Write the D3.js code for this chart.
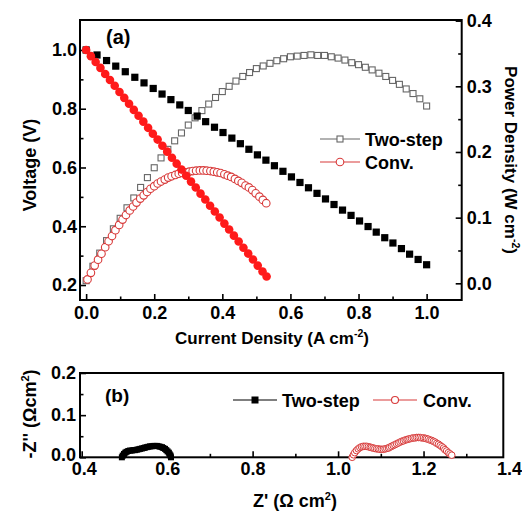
<!DOCTYPE html>
<html><head><meta charset="utf-8">
<script src="https://cdn.jsdelivr.net/npm/d3@7/dist/d3.min.js"></script>
<style>
html,body{margin:0;padding:0;background:#fff;}
svg text{font-family:"Liberation Sans",Arial,sans-serif;font-weight:bold;fill:#000;}
</style></head>
<body><svg id="c" width="522" height="518"></svg>
<script>
// ---------- Data: panel (a) polarization ----------
const twoStepI = [0.000,0.032,0.060,0.087,0.115,0.143,0.170,0.197,0.223,0.249,0.275,0.300,0.326,0.351,0.377,0.402,0.428,0.453,0.478,0.503,0.528,0.553,0.578,0.603,0.628,0.653,0.678,0.703,0.728,0.753,0.778,0.803,0.828,0.852,0.877,0.901,0.926,0.950,0.975,1.000];
const twoStepV = [1.000,0.983,0.964,0.945,0.926,0.907,0.888,0.869,0.850,0.831,0.813,0.794,0.775,0.756,0.737,0.719,0.700,0.681,0.662,0.643,0.625,0.606,0.587,0.568,0.549,0.531,0.512,0.493,0.474,0.455,0.437,0.418,0.399,0.380,0.361,0.343,0.324,0.305,0.287,0.269];
const twoStepPI = [0.00,0.02,0.04,0.06,0.08,0.10,0.12,0.14,0.16,0.18,0.20,0.22,0.24,0.26,0.28,0.30,0.32,0.34,0.36,0.38,0.40,0.42,0.44,0.46,0.48,0.50,0.52,0.54,0.56,0.58,0.60,0.62,0.64,0.66,0.68,0.70,0.72,0.74,0.76,0.78,0.80,0.82,0.84,0.86,0.88,0.90,0.92,0.94,0.96,0.98,1.00];
const twoStepP = [0.004,0.026,0.046,0.065,0.083,0.099,0.115,0.130,0.146,0.161,0.176,0.191,0.204,0.217,0.229,0.241,0.252,0.263,0.273,0.283,0.292,0.300,0.308,0.315,0.321,0.327,0.331,0.335,0.339,0.342,0.345,0.346,0.347,0.348,0.347,0.347,0.345,0.343,0.340,0.336,0.333,0.329,0.325,0.320,0.315,0.309,0.303,0.296,0.289,0.281,0.270];
const convI = [0,0.014,0.028,0.042,0.056,0.070,0.084,0.098,0.112,0.126,0.140,0.154,0.168,0.182,0.196,0.210,0.224,0.238,0.252,0.266,0.280,0.294,0.308,0.322,0.336,0.350,0.364,0.378,0.392,0.406,0.420,0.434,0.448,0.462,0.476,0.490,0.504,0.518,0.530];
const convV = [1.000,0.979,0.959,0.939,0.918,0.898,0.878,0.857,0.837,0.817,0.796,0.776,0.756,0.735,0.715,0.695,0.674,0.654,0.633,0.613,0.593,0.572,0.552,0.532,0.511,0.491,0.470,0.450,0.430,0.409,0.389,0.368,0.348,0.327,0.307,0.287,0.266,0.246,0.229];
const convPI = [0.004,0.014,0.025,0.035,0.045,0.056,0.066,0.076,0.086,0.097,0.107,0.117,0.128,0.138,0.148,0.159,0.169,0.179,0.189,0.200,0.210,0.220,0.231,0.241,0.251,0.262,0.272,0.282,0.292,0.303,0.313,0.323,0.334,0.344,0.354,0.365,0.375,0.385,0.395,0.406,0.416,0.426,0.437,0.447,0.457,0.468,0.478,0.488,0.498,0.509,0.519,0.529];
const convP = [0.006,0.016,0.027,0.036,0.045,0.055,0.064,0.072,0.081,0.089,0.097,0.104,0.111,0.117,0.123,0.129,0.134,0.139,0.144,0.148,0.152,0.155,0.158,0.161,0.163,0.165,0.167,0.168,0.169,0.170,0.171,0.1715,0.172,0.172,0.1715,0.171,0.170,0.169,0.168,0.166,0.164,0.162,0.159,0.156,0.153,0.149,0.146,0.142,0.137,0.132,0.127,0.122];
// ---------- Data: panel (b) impedance ----------
const twoStepZr = [0.494,0.496,0.499,0.502,0.505,0.509,0.513,0.517,0.521,0.525,0.529,0.533,0.537,0.541,0.545,0.548,0.552,0.556,0.560,0.564,0.568,0.572,0.576,0.580,0.584,0.588,0.591,0.595,0.598,0.601,0.604,0.606,0.608,0.609];
const twoStepZi = [0.000,0.004,0.008,0.011,0.013,0.015,0.016,0.016,0.017,0.017,0.018,0.019,0.020,0.021,0.022,0.023,0.024,0.025,0.026,0.026,0.027,0.027,0.027,0.026,0.025,0.024,0.022,0.020,0.017,0.014,0.011,0.007,0.004,0.000];
const convZr = [1.033,1.036,1.039,1.043,1.047,1.051,1.055,1.059,1.063,1.067,1.071,1.075,1.078,1.082,1.086,1.090,1.094,1.098,1.102,1.106,1.110,1.114,1.118,1.121,1.125,1.129,1.133,1.137,1.141,1.145,1.149,1.153,1.157,1.161,1.164,1.168,1.172,1.176,1.180,1.184,1.188,1.192,1.196,1.200,1.204,1.207,1.211,1.215,1.219,1.223,1.227,1.231,1.235,1.239,1.243,1.247,1.250,1.254,1.258,1.262,1.266];
const convZi = [0.000,0.006,0.011,0.016,0.020,0.023,0.025,0.026,0.026,0.026,0.025,0.024,0.023,0.022,0.021,0.020,0.020,0.019,0.019,0.019,0.020,0.021,0.022,0.024,0.026,0.028,0.030,0.032,0.034,0.036,0.038,0.039,0.041,0.042,0.043,0.044,0.045,0.046,0.046,0.047,0.047,0.047,0.046,0.046,0.045,0.044,0.043,0.041,0.040,0.038,0.036,0.033,0.031,0.028,0.025,0.022,0.018,0.015,0.011,0.008,0.005];
// ---------- Ticks ----------
const xTicksA = [0.0,0.2,0.4,0.6,0.8,1.0];
const xMinorA = [0.1,0.3,0.5,0.7,0.9];
const yLTicks = [0.2,0.4,0.6,0.8,1.0];
const yLMinor = [0.3,0.5,0.7,0.9];
const yRTicks = [0.0,0.1,0.2,0.3,0.4];
const yRMinor = [0.05,0.15,0.25,0.35];
const xTicksB = [0.4,0.6,0.8,1.0,1.2,1.4];
const xMinorB = [0.5,0.7,0.9,1.1,1.3];
const yTicksB = [0.0,0.1,0.2];
const yMinorB = [0.05,0.15];
const seriesNames = ["Two-step","Conv."];

const svg = d3.select("#c");
const RED = "#ff1a1a", RED2 = "#d83a3a", GRAY = "#666";

// ---------- Panel (a) ----------
const A = {l:80, r:461.7, t:20, b:300};
const x = d3.scaleLinear().domain([-0.018,1.103]).range([A.l,A.r]);
const yL = d3.scaleLinear().domain([0.149,1.102]).range([A.b,A.t]);
const yR = d3.scaleLinear().domain([-0.0254,0.401]).range([A.b,A.t]);
const fmt1 = d3.format(".1f");

function axisG(gen, tx, ty){
  const g = svg.append("g").attr("transform",`translate(${tx},${ty})`).call(gen);
  g.select(".domain").remove();
  g.selectAll("line").attr("stroke","#000").attr("stroke-width",1.6);
  return g;
}
function styleLabels(g, size){ g.selectAll("text").style("font-size",size+"px").attr("fill","#000"); }

let g;
g = axisG(d3.axisBottom(x).tickValues(xTicksA).tickFormat(fmt1).tickSizeInner(-6).tickSizeOuter(0).tickPadding(6), 0, A.b);
styleLabels(g,18);
axisG(d3.axisBottom(x).tickValues(xMinorA).tickFormat("").tickSizeInner(-3.5).tickSizeOuter(0), 0, A.b);
g = axisG(d3.axisLeft(yL).tickValues(yLTicks).tickFormat(fmt1).tickSizeInner(-6).tickSizeOuter(0).tickPadding(3), A.l, 0);
styleLabels(g,18);
axisG(d3.axisLeft(yL).tickValues(yLMinor).tickFormat("").tickSizeInner(-3.5).tickSizeOuter(0), A.l, 0);
g = axisG(d3.axisRight(yR).tickValues(yRTicks).tickFormat(fmt1).tickSizeInner(-6).tickSizeOuter(0).tickPadding(5), A.r, 0);
styleLabels(g,18);
axisG(d3.axisRight(yR).tickValues(yRMinor).tickFormat("").tickSizeInner(-3.5).tickSizeOuter(0), A.r, 0);

svg.append("rect").attr("x",A.l).attr("y",A.t).attr("width",A.r-A.l).attr("height",A.b-A.t)
  .attr("fill","none").attr("stroke","#000").attr("stroke-width",2);

// power two-step: open gray squares
svg.append("g").selectAll("rect").data(twoStepPI).join("rect")
  .attr("x",(d,i)=>x(d)-3).attr("y",(d,i)=>yR(twoStepP[i])-3).attr("width",6).attr("height",6)
  .attr("fill","#fff").attr("stroke",GRAY).attr("stroke-width",1.1);
// power conv: open red circles
svg.append("g").selectAll("circle").data(convPI).join("circle")
  .attr("cx",d=>x(d)).attr("cy",(d,i)=>yR(convP[i])).attr("r",3.8)
  .attr("fill","#fff").attr("stroke",RED2).attr("stroke-width",1.1);
// voltage two-step: filled black squares
svg.append("g").selectAll("rect").data(twoStepI).join("rect")
  .attr("x",d=>x(d)-3.6).attr("y",(d,i)=>yL(twoStepV[i])-3.6).attr("width",7.2).attr("height",7.2)
  .attr("fill","#000");
// voltage conv: filled red circles
svg.append("g").selectAll("circle").data(convI).join("circle")
  .attr("cx",d=>x(d)).attr("cy",(d,i)=>yL(convV[i])).attr("r",4.3)
  .attr("fill",RED);

svg.append("text").attr("x",106).attr("y",44).style("font-size","20px").text("(a)");

// legend (a)
function legendLine(x0,x1,y,color){
  svg.append("line").attr("x1",x0).attr("x2",x1).attr("y1",y).attr("y2",y).attr("stroke",color).attr("stroke-width",1.2);
}
legendLine(320,360,139,GRAY);
svg.append("rect").attr("x",337).attr("y",136).attr("width",6).attr("height",6).attr("fill","#fff").attr("stroke",GRAY).attr("stroke-width",1.1);
svg.append("text").attr("x",365).attr("y",146).style("font-size","18px").text(seriesNames[0]);
legendLine(320,360,162,RED2);
svg.append("circle").attr("cx",340).attr("cy",162).attr("r",3.8).attr("fill","#fff").attr("stroke",RED2).attr("stroke-width",1.1);
svg.append("text").attr("x",365).attr("y",169).style("font-size","18px").text(seriesNames[1]);

// axis titles (a)
svg.append("text").attr("transform","translate(36,165) rotate(-90)").attr("text-anchor","middle")
  .style("font-size","18px").text("Voltage (V)");
const xt = svg.append("text").attr("x",272).attr("y",344).attr("text-anchor","middle").style("font-size","17px");
xt.append("tspan").text("Current Density (A cm");
xt.append("tspan").attr("dy",-7).style("font-size","10.5px").text("-2");
xt.append("tspan").attr("dy",7).text(")");
const yt = svg.append("text").attr("transform","translate(505,160) rotate(90)").attr("text-anchor","middle").style("font-size","17px");
yt.append("tspan").text("Power Density (W cm");
yt.append("tspan").attr("dy",-7).style("font-size","10.5px").text("-2");
yt.append("tspan").attr("dy",7).text(")");

// ---------- Panel (b) ----------
const B = {l:80, r:503.3, t:373, b:457.3};
const xb = d3.scaleLinear().domain([0.4,1.4]).range([81.7,509]);
const yb = d3.scaleLinear().domain([0,0.2]).range([B.b,B.t]);

g = axisG(d3.axisBottom(xb).tickValues(xTicksB).tickFormat(fmt1).tickSizeInner(-6).tickSizeOuter(0).tickPadding(5), 0, B.b);
styleLabels(g,18);
g.selectAll(".tick").filter(d=>xb(d)>B.r-1).select("line").remove();
g.selectAll(".tick").filter(d=>d===0.4).select("text").attr("dx",2);
axisG(d3.axisBottom(xb).tickValues(xMinorB).tickFormat("").tickSizeInner(-3.5).tickSizeOuter(0), 0, B.b);
g = axisG(d3.axisLeft(yb).tickValues(yTicksB).tickFormat(fmt1).tickSizeInner(-6).tickSizeOuter(0).tickPadding(4), B.l, 0);
styleLabels(g,18);
g.selectAll(".tick").filter(d=>d===0).select("text").attr("dy","0.2em");
axisG(d3.axisLeft(yb).tickValues(yMinorB).tickFormat("").tickSizeInner(-3.5).tickSizeOuter(0), B.l, 0);

svg.append("rect").attr("x",B.l).attr("y",B.t).attr("width",B.r-B.l).attr("height",B.b-B.t)
  .attr("fill","none").attr("stroke","#000").attr("stroke-width",2);

svg.append("g").selectAll("rect").data(twoStepZr).join("rect")
  .attr("x",d=>xb(d)-3).attr("y",(d,i)=>yb(twoStepZi[i])-3).attr("width",6).attr("height",6).attr("fill","#000");
svg.append("g").selectAll("circle").data(convZr).join("circle")
  .attr("cx",d=>xb(d)).attr("cy",(d,i)=>yb(convZi[i])).attr("r",3.3)
  .attr("fill","#fff").attr("stroke",RED2).attr("stroke-width",1);

svg.append("text").attr("x",105).attr("y",402).style("font-size","19px").text("(b)");

legendLine(233,277,400,"#000");
svg.append("rect").attr("x",251.5).attr("y",396.5).attr("width",7).attr("height",7).attr("fill","#000");
svg.append("text").attr("x",282).attr("y",407).style("font-size","18px").text(seriesNames[0]);
legendLine(373,417,400,RED2);
svg.append("circle").attr("cx",395).attr("cy",400).attr("r",3.5).attr("fill","#fff").attr("stroke",RED2).attr("stroke-width",1.1);
svg.append("text").attr("x",423).attr("y",407).style("font-size","18px").text(seriesNames[1]);

const zx = svg.append("text").attr("x",295).attr("y",507).attr("text-anchor","middle").style("font-size","18px");
zx.append("tspan").text("Z' (\u03A9 cm");
zx.append("tspan").attr("dy",-7).style("font-size","11px").text("2");
zx.append("tspan").attr("dy",7).text(")");
const zy = svg.append("text").attr("transform","translate(36,414) rotate(-90)").attr("text-anchor","middle").style("font-size","18px");
zy.append("tspan").text("-Z'' (\u03A9cm");
zy.append("tspan").attr("dy",-7).style("font-size","11px").text("2");
zy.append("tspan").attr("dy",7).text(")");
</script></body></html>
